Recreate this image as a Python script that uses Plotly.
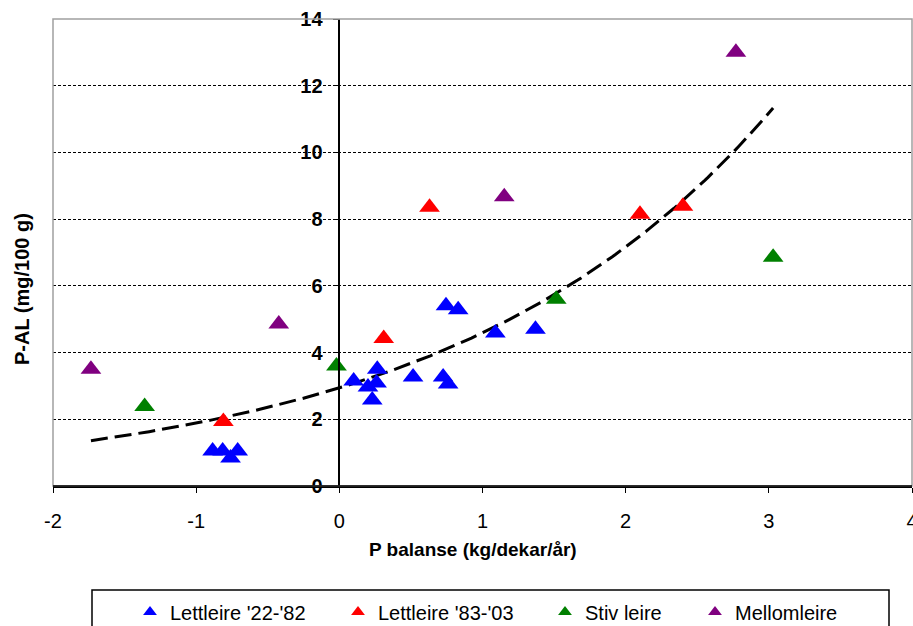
import numpy as np
import plotly.graph_objects as go

# ---- data ----
blue_x = [-0.885, -0.815, -0.76, -0.71, 0.10, 0.20, 0.23, 0.26, 0.265, 0.515, 0.725, 0.76, 0.745, 0.83, 1.09, 1.37]
blue_y = [1.05, 1.05, 0.84, 1.05, 3.15, 2.97, 2.58, 3.09, 3.50, 3.27, 3.27, 3.06, 5.40, 5.28, 4.59, 4.70]
red_x = [-0.81, 0.31, 0.63, 2.10, 2.40]
red_y = [1.93, 4.42, 8.36, 8.15, 8.39]
green_x = [-1.36, -0.02, 1.515, 3.03]
green_y = [2.38, 3.60, 5.60, 6.86]
purple_x = [-1.735, -0.423, 1.152, 2.77]
purple_y = [3.50, 4.86, 8.67, 13.00]

series_names = ["Lettleire '22-'82", "Lettleire '83-'03", "Stiv leire", "Mellomleire"]
series_colors = ["#0000FF", "#FF0000", "#008000", "#800080"]
x_ticks = [-2, -1, 0, 1, 2, 3, 4]
y_ticks = [0, 2, 4, 6, 8, 10, 12, 14]
x_title = "P balanse (kg/dekar/år)"
y_title = "P-AL (mg/100 g)"

# exponential trendline (least squares on ln y, as a spreadsheet does)
all_x = np.array(blue_x + red_x + green_x + purple_x)
all_y = np.array(blue_y + red_y + green_y + purple_y)
b, ln_a = np.polyfit(all_x, np.log(all_y), 1)
trend_x = np.linspace(all_x.min(), all_x.max(), 200)
trend_y = np.exp(ln_a) * np.exp(b * trend_x)

FONT = "Liberation Sans, Arial, sans-serif"
W, H = 913, 626
ML, MR, MT, MB = 53, 1, 19, 140
PW = W - ML - MR
PH = H - MT - MB

def px_x(p):
    return (p - ML) / PW

def px_y(p):
    return (MT + PH - p) / PH

fig = go.Figure()

groups = [(blue_x, blue_y), (red_x, red_y), (green_x, green_y), (purple_x, purple_y)]
legend_ids = ["legend", "legend2", "legend3", "legend4"]

fig.add_trace(go.Scatter(x=trend_x, y=trend_y, mode="lines",
                         line=dict(color="black", width=3, dash="17px,7px"),
                         showlegend=False, hoverinfo="skip"))

for (gx, gy), name, col, lid in zip(groups, series_names, series_colors, legend_ids):
    fig.add_trace(go.Scatter(x=gx, y=gy, mode="markers", name=name,
                             marker=dict(symbol="triangle-up", size=18, color=col,
                                         opacity=1, line=dict(width=0, color=col)),
                             legend=lid))

fig.update_layout(
    width=W, height=H,
    margin=dict(l=ML, r=MR, t=MT, b=MB, autoexpand=False),
    paper_bgcolor="white", plot_bgcolor="white",
    font=dict(family=FONT, color="black"),
    xaxis=dict(range=[-2, 4], tickvals=x_ticks, ticktext=[str(v) for v in x_ticks],
               showgrid=False, zeroline=False, showline=True, linecolor="black",
               linewidth=1.5, ticks="outside", ticklen=5, tickcolor="black",
               automargin=False, ticklabeloverflow="allow",
               tickfont=dict(size=20, family=FONT), ticklabelstandoff=11),
    yaxis=dict(range=[0, 14], tickvals=y_ticks, ticktext=[str(v) for v in y_ticks],
               anchor="free", position=1/3, automargin=False,
               showgrid=True, gridcolor="black", gridwidth=1, griddash="3px,2px",
               zeroline=False, showline=True, linecolor="black", linewidth=1.5,
               ticks="outside", ticklen=6, tickcolor="black",
               tickfont=dict(size=20, family=FONT, weight="bold"),
               ticklabelstandoff=6),
)

legend_marker_px = [152, 360, 567, 717]
for lid, mx in zip(legend_ids, legend_marker_px):
    fig.update_layout({lid: dict(x=px_x(mx - 22), y=px_y(612), xanchor="left",
                                 yanchor="middle", orientation="h",
                                 bgcolor="rgba(0,0,0,0)", borderwidth=0,
                                 itemwidth=30, itemsizing="constant",
                                 font=dict(size=20, family=FONT))})

# plot-area border and legend box
fig.add_shape(type="rect", xref="paper", yref="paper", x0=0, x1=1, y0=0, y1=1,
              line=dict(color="#a0a0a0", width=1.5), layer="above")
fig.add_shape(type="rect", xref="paper", yref="paper",
              x0=px_x(92), x1=px_x(889), y0=px_y(590), y1=px_y(640),
              line=dict(color="black", width=1.5))
# redraw x axis line over border
fig.add_shape(type="line", xref="paper", yref="paper", x0=0, x1=1, y0=0, y1=0,
              line=dict(color="black", width=1.5), layer="above")

fig.add_annotation(text="<b>%s</b>" % x_title, xref="paper", yref="paper",
                   x=px_x(473), y=px_y(549), showarrow=False,
                   font=dict(size=19, family=FONT), xanchor="center", yanchor="middle")
fig.add_annotation(text="<b>%s</b>" % y_title, xref="paper", yref="paper",
                   x=px_x(22), y=px_y(289), showarrow=False, textangle=-90,
                   font=dict(size=20, family=FONT), xanchor="center", yanchor="middle")

fig.write_html("out.html", config={"displayModeBar": False},
               post_script="document.body.style.margin='0';document.body.style.overflow='hidden';")
